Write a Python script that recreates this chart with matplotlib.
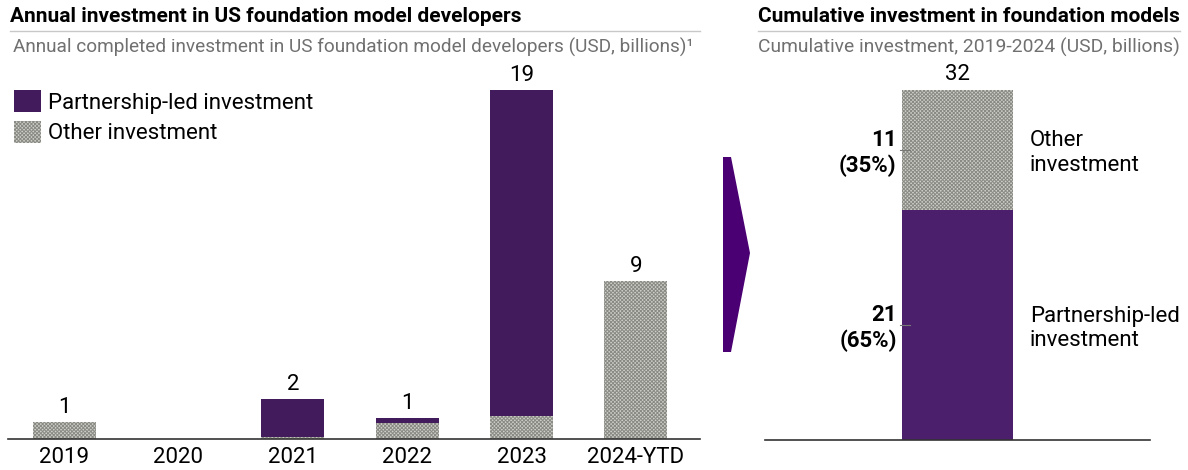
import matplotlib.pyplot as plt
from matplotlib.patches import Patch, Polygon
from matplotlib.lines import Line2D

plt.rcParams['font.family'] = ['Roboto', 'DejaVu Sans']
plt.rcParams['hatch.linewidth'] = 0.7

years = ["2019", "2020", "2021", "2022", "2023", "2024-YTD"]
partnership = [0.0, 0.0, 2.05, 0.3, 17.7, 0.0]
other = [0.9, 0.0, 0.1, 0.85, 1.25, 8.6]
year_labels = ["1", "", "2", "1", "19", "9"]

cum_partnership = 21
cum_other = 11
cum_total = 32
cum_share = ["65%", "35%"]

PURPLE = "#421b5c"
PURPLE_R = "#4b1f6b"
GREY_FACE = "#cfcfc9"
GREY_HATCH = "#8a8a84"
HATCH = "xxxxxxxxx"
SUB_GREY = "#707070"

W, H = 1188, 470
fig = plt.figure(figsize=(W / 100, H / 100), dpi=100)


def fx(px):
    return px / W


def fy(py):
    return 1 - py / H


# ---- headers
fig.text(fx(10), fy(17), "Annual investment in US foundation model developers",
         fontsize=15, fontweight="bold", va="center", ha="left")
fig.text(fx(13), fy(47), "Annual completed investment in US foundation model developers (USD, billions)¹",
         fontsize=13.7, color=SUB_GREY, va="center", ha="left")
fig.text(fx(758), fy(17), "Cumulative investment in foundation models",
         fontsize=15, fontweight="bold", va="center", ha="left")
fig.text(fx(758), fy(47), "Cumulative investment, 2019-2024 (USD, billions)",
         fontsize=13.9, color=SUB_GREY, va="center", ha="left")
for x0, x1 in [(10, 700), (758, 1180)]:
    fig.add_artist(Line2D([fx(x0), fx(x1)], [fy(31), fy(31)], color="#c8c8c8", lw=1))

# ---- left: annual stacked bars
ax = fig.add_axes([fx(8), fy(439), fx(700) - fx(8), fy(60) - fy(439)])
xs = range(len(years))
ax.bar(xs, other, width=0.55, color=GREY_FACE, edgecolor=GREY_HATCH, hatch=HATCH, lw=0)
ax.bar(xs, partnership, width=0.55, bottom=other, color=PURPLE, lw=0)
for i, lab in enumerate(year_labels):
    if lab:
        ax.annotate(lab, (i, other[i] + partnership[i]), xytext=(0, 3),
                    textcoords="offset points", ha="center", va="bottom", fontsize=16)
ax.set_xlim(-0.49, 5.56)
ax.set_ylim(0, 20.6)
ax.set_xticks(list(xs))
ax.set_xticklabels(years, fontsize=16)
ax.tick_params(axis="x", length=0, pad=6)
ax.set_yticks([])
for s in ["top", "right", "left"]:
    ax.spines[s].set_visible(False)
ax.spines["bottom"].set_color("#333333")
ax.spines["bottom"].set_linewidth(1.2)

handles = [Patch(facecolor=PURPLE, lw=0),
           Patch(facecolor=GREY_FACE, edgecolor=GREY_HATCH, hatch=HATCH, lw=0)]
ax.legend(handles, ["Partnership-led investment", "Other investment"],
          loc="upper left", bbox_to_anchor=(-0.011, 0.955), frameon=False,
          fontsize=16, handlelength=1.25, handleheight=1.15, handletextpad=0.3,
          labelspacing=0.3, borderaxespad=0.2)

# ---- arrow between panels
fig.add_artist(Polygon([(fx(723), fy(157)), (fx(731), fy(157)), (fx(750), fy(253)),
                        (fx(731), fy(352)), (fx(723), fy(352))],
                       closed=True, transform=fig.transFigure, color="#4a0072", lw=0))

# ---- right: cumulative bar
ax2 = fig.add_axes([fx(765), fy(440), fx(1150) - fx(765), fy(60) - fy(440)])
bw = 0.286
ax2.bar([0.5], [cum_partnership], width=bw, color=PURPLE_R, lw=0)
ax2.bar([0.5], [cum_other], width=bw, bottom=[cum_partnership], color=GREY_FACE,
        edgecolor=GREY_HATCH, hatch=HATCH, lw=0)
ax2.annotate(str(cum_total), (0.5, cum_total), xytext=(0, 3), textcoords="offset points",
             ha="center", va="bottom", fontsize=16)
left = 0.5 - bw / 2
segs = [(cum_partnership, cum_partnership / 2, cum_share[0], "Partnership-led\ninvestment"),
        (cum_other, cum_partnership + cum_other / 2, cum_share[1], "Other\ninvestment")]
for val, mid, pct, name in segs:
    ax2.text(left - 0.015, mid - 0.3, f"{val}\n({pct})", ha="right", va="center",
             fontsize=16, fontweight="bold", linespacing=1.2)
    ax2.plot([left - 0.006, left + 0.02], [mid, mid], color="#777777", lw=0.8)
    ax2.text(left + bw + 0.045, mid - 0.3, name, ha="left", va="center", fontsize=16,
             linespacing=1.2)
ax2.set_xlim(0, 1)
ax2.set_ylim(0, 34.7)
ax2.set_xticks([])
ax2.set_yticks([])
for s in ["top", "right", "left"]:
    ax2.spines[s].set_visible(False)
ax2.spines["bottom"].set_color("#333333")
ax2.spines["bottom"].set_linewidth(1.2)

fig.savefig("out.png", dpi=100)
